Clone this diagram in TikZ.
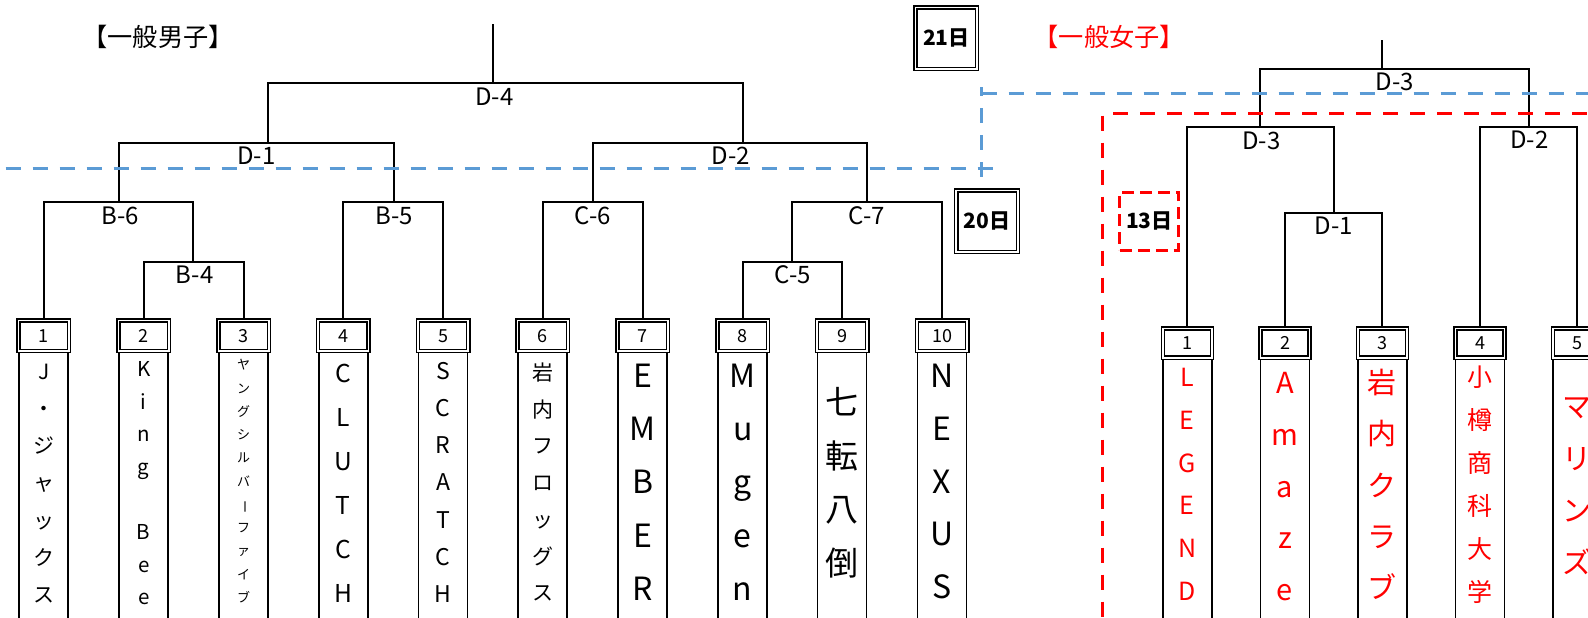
\documentclass[tikz,border=0pt]{standalone}
\usepackage{fontspec}
\setmainfont{Noto Sans CJK JP}
\definecolor{myblue}{RGB}{91,155,213}
\begin{document}
\begin{tikzpicture}[x=0.5pt,y=-0.5pt,
  br/.style={line width=0.85pt, black},
  numbox/.style={draw, double, line width=0.75pt, double distance=0.8pt, fill=white,
    minimum width=25.2pt, minimum height=15.2pt, inner sep=0, font=\fontsize{9}{10}\selectfont},
  wnumbox/.style={numbox, minimum width=24.5pt, minimum height=14.7pt},
  colbox/.style={draw, line width=0.85pt, minimum width=24.5pt, minimum height=160pt, inner sep=0, anchor=north},
  lbl/.style={font=\fontsize{12}{14}\selectfont, inner sep=0},
  team/.style 2 args={font=\fontsize{#1}{#2}\selectfont, align=center, inner sep=0},
  dashline/.style={line width=1.6pt, dash pattern=on 7.5pt off 6pt},
  datebox/.style={draw, double, line width=0.75pt, double distance=0.8pt, minimum size=30.8pt, inner sep=0,
    font=\bfseries\fontsize{10.5}{12}\selectfont},
  title/.style={font=\fontsize{12.6}{14}\selectfont, inner sep=0}
]
\useasboundingbox (0,0) rectangle (1588,617);
\fill[white] (0,0) rectangle (1588,617);
\clip (0,0) rectangle (1588,617);

% titles
\node[title] (tm) at (158,36.7) {【一般男子】};
\node[title, text=red] (tw) at (1109.2,36.5) {【一般女子】};

% men number boxes
\foreach \i/\x in {1/43.7,2/143.7,3/243.7,4/343.3,5/443,6/542.7,7/642.7,8/742.7,9/842,10/942}{
  \node[colbox] (c\i) at (\x,351) {};
  \node[numbox] (m\i) at (\x,335.8) {\i};
}
% women number boxes
\foreach \i/\x in {1/1187.3,2/1285,3/1382.3,4/1480,5/1577.3}{
  \node[colbox] (d\i) at (\x,358.5) {};
  \node[wnumbox] (w\i) at (\x,343) {\i};
}

% men bracket junctions
\coordinate (B4) at (193.3,261.7);
\coordinate (B6) at (118.7,201.7);
\coordinate (B5) at (393.7,201.7);
\coordinate (D1) at (268.3,142.7);
\coordinate (C6) at (592.7,201.7);
\coordinate (C5) at (792.3,261.7);
\coordinate (C7) at (867.3,201.7);
\coordinate (D2) at (742.7,142.7);
\coordinate (D4) at (492.7,83);
\coordinate (topM) at (492.7,24);

\draw[br] (m2.north) |- (B4) -| (m3.north);
\draw[br] (m1.north) |- (B6) -| (B4);
\draw[br] (m4.north) |- (B5) -| (m5.north);
\draw[br] (B6) |- (D1) -| (B5);
\draw[br] (m6.north) |- (C6) -| (m7.north);
\draw[br] (m8.north) |- (C5) -| (m9.north);
\draw[br] (C5) |- (C7) -| (m10.north);
\draw[br] (C6) |- (D2) -| (C7);
\draw[br] (D1) |- (D4) -| (D2);
\draw[br] (D4) -- (topM);

% women bracket junctions
\coordinate (WD1) at (1333.7,212.7);
\coordinate (WD3) at (1260.3,126.7);
\coordinate (WD2) at (1528.7,126.7);
\coordinate (WF) at (1382.3,69);
\coordinate (topW) at (1382.3,40);

\draw[br] (w2.north) |- (WD1) -| (w3.north);
\draw[br] (w1.north) |- (WD3) -| (WD1);
\draw[br] (w4.north) |- (WD2) -| (w5.north);
\draw[br] (WD3) |- (WF) -| (WD2);
\draw[br] (WF) -- (topW);

% match labels
\node[lbl] (lD4) at (494.3,96.5) {D-4};
\node[lbl] (lD1) at (256.5,156) {D-1};
\node[lbl] (lB6) at (120,215.7) {B-6};
\node[lbl] (lB4) at (194.7,275) {B-4};
\node[lbl] (lB5) at (394,215.7) {B-5};
\node[lbl] (lD2) at (731,156) {D-2};
\node[lbl] (lC6) at (593,215.7) {C-6};
\node[lbl] (lC7) at (867,215.7) {C-7};
\node[lbl] (lC5) at (792.8,275) {C-5};
\node[lbl] (lWF) at (1395,81.7) {D-3};
\node[lbl] (lWD3) at (1261.3,140.8) {D-3};
\node[lbl] (lWD1) at (1334,226) {D-1};
\node[lbl] (lWD2) at (1529.5,139.7) {D-2};

% men team names
\node[team={10.5}{18.6}] (t1) at (43.7,483.4) {\strut J\\・\\ジ\\ャ\\ッ\\ク\\ス\strut};
\node[team={10.25}{16.3}] (t2) at (143.7,484.2) {\strut K\\i\\n\\g\\\mbox{}\\B\\e\\e\strut};
\node[team={6.5}{11.63}] (t3) at (243.7,481.4) {\strut ヤ\\ン\\グ\\シ\\ル\\バ\\\rotatebox[origin=c]{-90}{ー}\\フ\\ァ\\イ\\ブ\strut};
\node[team={12.3}{22}] (t4) at (343.3,483.3) {\strut C\\L\\U\\T\\C\\H\strut};
\node[team={11.5}{18.6}] (t5) at (443,483.4) {\strut S\\C\\R\\A\\T\\C\\H\strut};
\node[team={10.5}{18.35}] (t6) at (542.7,483.3) {\strut 岩\\内\\フ\\ロ\\ッ\\グ\\ス\strut};
\node[team={16}{26.65}] (t7) at (642.7,483.3) {\strut E\\M\\B\\E\\R\strut};
\node[team={16}{26.65}] (t8) at (742.7,483.3) {\strut M\\u\\g\\e\\n\strut};
\node[team={16.5}{26.95}] (t9) at (842,484.2) {\strut 七\\転\\八\\倒\strut};
\node[team={16}{26.45}] (t10) at (942,482.5) {\strut N\\E\\X\\U\\S\strut};

% women team names
\node[team={12.5}{21.35}, text=red] (u1) at (1187.3,485) {\strut L\\E\\G\\E\\N\\D\strut};
\node[team={14.5}{25.85}, text=red] (u2) at (1285,486.7) {\strut A\\m\\a\\z\\e\strut};
\node[team={14.5}{25.6}, text=red] (u3) at (1382.3,485.8) {\strut 岩\\内\\ク\\ラ\\ブ\strut};
\node[team={12.5}{21.5}, text=red] (u4) at (1480,485.8) {\strut 小\\樽\\商\\科\\大\\学\strut};
\node[team={14.5}{26.1}, text=red] (u5) at (1577.3,485) {\strut マ\\リ\\ン\\ズ\strut};

% date boxes
\node[datebox] (d21) at (946.3,38.3) {21日};
\node[datebox] (d20) at (987,221.3) {20日};
\node[draw=red, line width=1.5pt, dash pattern=on 6pt off 3pt, minimum width=29.5pt, minimum height=29pt,
  inner sep=0, font=\bfseries\fontsize{10.5}{12}\selectfont] (d13) at (1149.3,221.2) {13日};

% dashed separators
\coordinate (bl0) at (5.7,168.5);
\coordinate (bl1) at (994.3,168.5);
\coordinate (bv0) at (981.7,176.7);
\coordinate (bv1) at (981.7,87.3);
\coordinate (bu0) at (981.7,93.3);
\coordinate (bu1) at (1600,93.3);
\draw[dashline, draw=myblue] (bl0) -- (bl1);
\draw[dashline, draw=myblue] (bv0) -- (bv1);
\draw[dashline, draw=myblue] (bu0) -- (bu1);

\coordinate (rl0) at (1102.7,115.5);
\coordinate (rl1) at (1102.7,640);
\coordinate (rt0) at (1113,113.3);
\coordinate (rt1) at (1600,113.3);
\draw[dashline, draw=red] (rl0) -- (rl1);
\draw[dashline, draw=red] (rt0) -- (rt1);
\end{tikzpicture}
\end{document}
